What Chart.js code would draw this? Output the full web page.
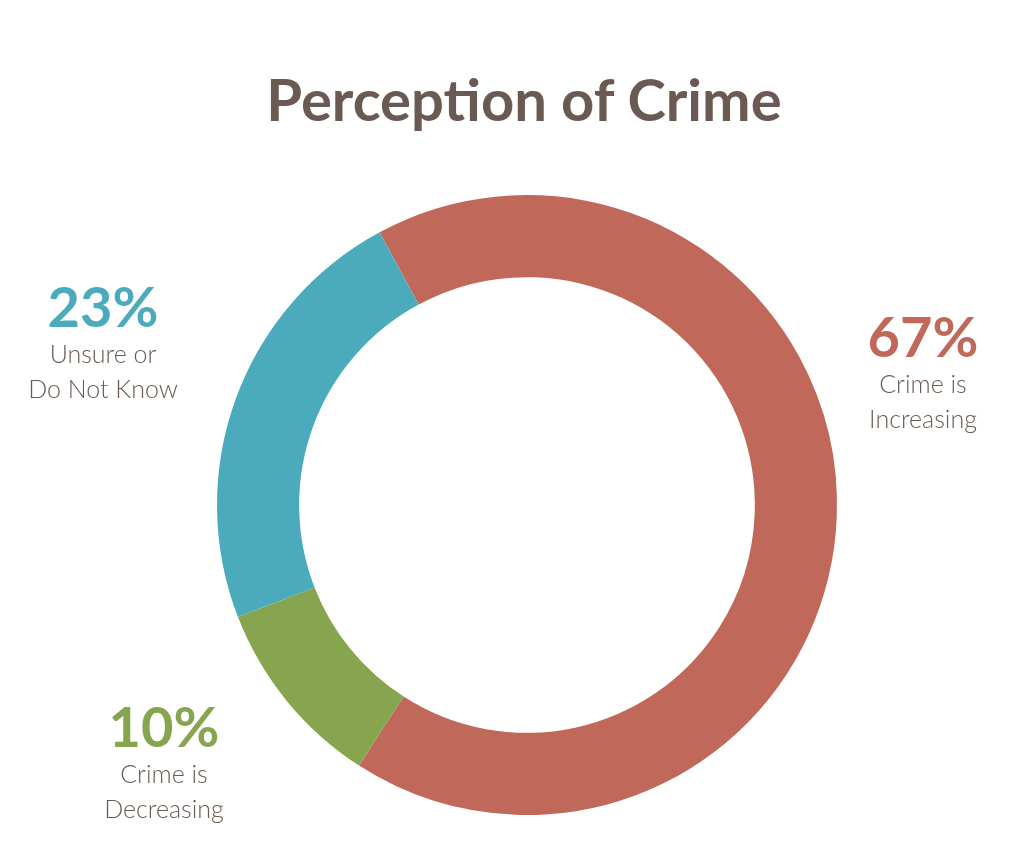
<!DOCTYPE html>
<html><head><meta charset="utf-8">
<script src="https://cdn.jsdelivr.net/npm/chart.js"></script>
<style>
html,body{margin:0;padding:0;background:#fff;width:1024px;height:865px;overflow:hidden;font-family:Lato,"Open Sans",sans-serif;}
#wrap{position:relative;width:1024px;height:865px;}
canvas{position:absolute;left:0;top:0;}
.t{position:absolute;text-align:center;color:#6b5a53;}
.title{left:0;width:1048px;top:64px;font-size:58px;font-weight:700;}
.pct{font-size:56px;font-weight:700;line-height:60px;}
.lab{font-size:25px;font-weight:300;line-height:35px;}
</style></head><body>
<div id="wrap">
<canvas id="c" width="1024" height="865"></canvas>
<div class="t title">Perception of Crime</div>
<div class="t" style="left:823px;width:200px;top:306px;"><div class="pct" style="color:#c0695a">67%</div><div class="lab">Crime is<br>Increasing</div></div>
<div class="t" style="left:3px;width:200px;top:276px;"><div class="pct" style="color:#4babbd">23%</div><div class="lab">Unsure or<br>Do Not Know</div></div>
<div class="t" style="left:64px;width:200px;top:696px;"><div class="pct" style="color:#87a44f">10%</div><div class="lab">Crime is<br>Decreasing</div></div>
</div>
<script>
const categories = ["Crime is Increasing", "Crime is Decreasing", "Unsure or Do Not Know"];
const values = [67, 10, 23];
const colors = ["#c0695a", "#87a44f", "#4babbd"];
new Chart(document.getElementById('c'), {
  type: 'doughnut',
  data: { labels: categories, datasets: [{ data: values, backgroundColor: colors, borderWidth: 0 }] },
  options: {
    responsive: false, animation: false, rotation: -28.4, cutout: '73.5%',
    layout: { padding: { top: 195, bottom: 50, left: 217, right: 187 } },
    plugins: { legend: { display: false }, tooltip: { enabled: false } }
  }
});
</script>
</body></html>
